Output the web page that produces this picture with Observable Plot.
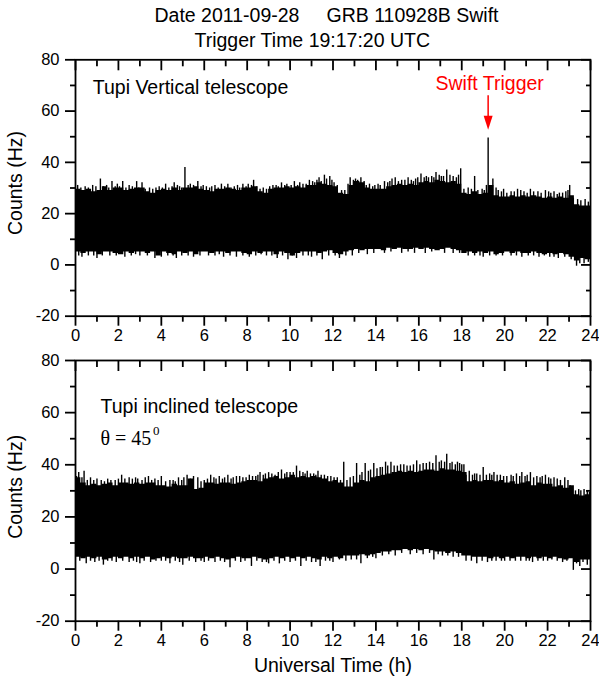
<!DOCTYPE html>
<html><head><meta charset="utf-8">
<script src="https://cdn.jsdelivr.net/npm/d3@7"></script>
<script src="https://cdn.jsdelivr.net/npm/@observablehq/plot@0.6"></script>
<style>
html,body{margin:0;padding:0;background:#fff;}
#chart{width:599px;height:688px;position:relative;overflow:hidden;}
#chart svg{display:block;}
</style></head><body><div id="chart"></div>
<script>
// ---- data ----
const titleLine1 = "Date 2011-09-28     GRB 110928B Swift";
const titleLine2 = "Trigger Time 19:17:20 UTC";
const xTickLabels = [0,2,4,6,8,10,12,14,16,18,20,22,24];
const xMinorTicks = [1,3,5,7,9,11,13,15,17,19,21,23];
const yTickLabels = [-20,0,20,40,60,80];
const yMinorTicks = [-10,10,30,50,70];
const binWidth = 0.25; // hours per envelope value

// Tupi Vertical telescope: upper / lower envelope of counts per 0.25 h bin
const vertHi = [
 29.5,29,29.5,28.5, 29,30.5,29,30, 30,29,29.5,30, 30,28.5,28,29,
 29.5,29,30,29, 30,30,30.5,29.5, 29,28.5,29.5,29.5, 30,29.5,29,30,
 30,30.5,28.5,28, 29.5,30,30,30.5, 30,30.5,30,31, 31,32,31.5,31,
 30.5,28,27.5,31, 32.5,32,30,29.5, 29.5,29.5,30.5,31, 31.5,31,31.5,31,
 32,32.5,32,33, 32.5,32,32.5,31.5, 28,27.5,28.5,27.5, 28,31,27,26.5,
 26.5,27,26.5,27, 26.5,27,26.5,26, 26.5,26,26.5,26, 27,23.5,23,23];
const vertLo = [
 5,4.5,5,5, 4,5,5,4.5, 4,5,4.5,5, 5,4.5,5,3.5,
 5,4.5,4,5, 4.5,5,4,5, 5,4.5,5,5, 4.5,5,5,4.5,
 4,5,4.5,5, 5,4,5,4.5, 3.5,4.5,5,5, 5,4.5,5,5.5,
 4.5,4,5,5.5, 6,5.5,6,6, 6,5.5,6.5,6, 6.5,6,6,6.5,
 6,6.5,6,5.5, 6,6.5,6,5.5, 4.5,5,4.5,5, 4.5,5,4,4.5,
 5,4.5,5,4.5, 4.5,5,4.5,4, 4.5,4,4.5,4, 3,1.5,2.5,2];
// individual spikes above / below the envelope: [hour, counts]
const vertSpikesUp = [[0.1,31],[0.25,30],[0.45,30.5],[0.6,30],[0.8,31],[0.95,30.5],[1.16,33.5],[1.3,30.5],[1.45,31],[1.55,30],[1.7,32.5],[1.85,30.5],[1.95,31.5],[2.05,30.5],[2.2,32.5],[2.35,30],[2.5,31],[2.65,30.5],[2.85,32.5],[2.95,30],[3.1,32],[3.25,29.5],[3.45,30],[3.6,29.5],[3.75,30],[3.9,30.5],[4.05,30],[4.2,31.5],[4.35,30],[4.5,30.5],[4.6,32],[4.75,31],[4.85,30.5],[4.95,30],[5.1,38],[5.25,31],[5.35,31.5],[5.5,31],[5.7,32.5],[5.85,30.5],[5.95,31],[6.1,30.5],[6.25,30],[6.35,30.5],[6.5,31],[6.65,30],[6.8,31.5],[6.95,30.5],[7.1,31.5],[7.25,30],[7.4,30.5],[7.55,31],[7.65,30],[7.8,31.5],[7.95,30.5],[8.05,31.5],[8.2,31],[8.3,33],[8.45,30.5],[8.6,29.5],[8.75,30],[8.9,29.5],[9.05,30.5],[9.2,31],[9.35,31],[9.45,30.5],[9.6,32],[9.75,31],[9.85,31.5],[10.05,31],[10.2,32.5],[10.35,31],[10.45,32],[10.6,31.5],[10.75,31.5],[10.9,33],[11.05,32.5],[11.15,32],[11.25,33],[11.35,34],[11.45,32.5],[11.6,35],[11.7,33.5],[11.85,34.5],[11.95,33],[12.05,32],[12.2,31],[12.4,29],[12.55,29],[12.7,31.5],[12.8,34],[12.95,33],[13.05,33.5],[13.15,33],[13.3,34],[13.45,32.5],[13.55,31],[13.7,31.5],[13.85,30.5],[13.95,31],[14.1,31.5],[14.2,31],[14.4,32.5],[14.55,32],[14.65,32.5],[14.75,33.5],[14.9,34],[15.05,32.5],[15.2,33],[15.35,33],[15.5,34],[15.65,33],[15.75,32.5],[15.85,33.5],[15.95,34],[16.1,35.5],[16.25,34],[16.35,34.5],[16.45,34],[16.6,34.5],[16.7,34],[16.8,36],[16.95,35],[17.05,34.5],[17.15,34.5],[17.3,37],[17.45,35],[17.6,34.5],[17.75,34],[17.85,35],[17.95,37.5],[18.1,29.5],[18.3,30],[18.45,29.5],[18.6,34.5],[18.75,29],[18.95,29.5],[19.05,29],[19.15,31],[19.23,49.5],[19.35,30.5],[19.45,33.5],[19.6,30],[19.7,29],[19.85,28.5],[19.95,29.5],[20.1,28],[20.3,28.5],[20.45,28.5],[20.6,29.5],[20.75,29],[20.9,28.5],[21.05,28],[21.2,29.5],[21.35,28.5],[21.55,28.5],[21.7,28],[21.9,29],[22.05,28.5],[22.15,28],[22.3,28.5],[22.45,27.5],[22.55,28],[22.7,28],[22.85,28.5],[22.95,29],[23.03,31],[23.2,26],[23.4,25.5],[23.55,25],[23.75,25.5],[23.9,24.5]];
const vertSpikesDown = [[0.15,3.5],[0.3,3],[0.6,3.5],[0.85,3.5],[1.0,2.5],[1.25,3.5],[1.6,3.5],[1.9,3.5],[2.3,3],[2.6,3.5],[2.8,4],[3.0,3.5],[3.35,3.5],[3.7,2.5],[4.0,3],[4.3,3.5],[4.55,3.5],[4.7,2.5],[4.95,3.5],[5.25,3.5],[5.5,3],[5.8,3.5],[6.2,3.5],[6.5,3.5],[6.7,4],[6.9,3],[7.2,3.5],[7.5,3],[7.8,3.5],[8.1,3],[8.4,3.5],[8.65,4],[8.9,3.5],[9.15,3.5],[9.4,2.5],[9.65,3.5],[9.9,2],[10.1,3.5],[10.3,2.5],[10.6,3.5],[10.85,3.5],[11.0,3],[11.25,3.5],[11.5,2],[11.8,3.5],[12.1,3.5],[12.3,2.5],[12.6,3.5],[12.9,3.5],[13.2,4.5],[13.6,4],[13.9,4.5],[14.4,4.5],[14.7,5],[15.2,4.5],[15.5,5],[15.8,4.5],[16.3,4.5],[16.6,5],[17.2,4.5],[17.6,4.5],[17.9,4.5],[18.3,3.5],[18.6,3.5],[18.85,3.5],[19.0,3],[19.3,3.5],[19.6,3.5],[19.9,3.5],[20.3,3.5],[20.55,3.5],[20.8,3],[21.1,3.5],[21.35,3.5],[21.6,3],[21.85,3.5],[22.1,3],[22.3,3],[22.5,2.5],[22.8,3],[23.1,2],[23.35,-0.5],[23.5,0.5],[23.7,0.5],[23.9,1]];

// Tupi inclined telescope (theta = 45 deg)
const inclHi = [
 35,33,32,32.5, 32,32.5,33,32, 33,33,32.5,33, 32.5,33,33,32,
 32,31.5,32.5,32, 32,34.5,30.5,31, 33,33,32.5,33, 33,32.5,33,33.5,
 34,34,33.5,34.5, 35,35.5,34.5,35, 36,35,35.5,35, 35.5,35,34.5,33.5,
 34,33,31.5,31.5, 33,34,33.5,35, 35.5,36,36.5,37, 37.5,37,37.5,37,
 37.5,38,38,37.5, 38.5,38,38,37.5, 37,33.5,34,33.5, 34,34,33.5,34,
 33,33.5,32.5,33, 33.5,32,33,32.5, 32.5,31.5,32,31, 32,28.5,28,28.5];
const inclLo = [
 4.5,4,4.5,4, 4.5,3.5,4,4.5, 4,4.5,4,4.5, 4,4.5,3.5,4,
 4.5,4,4.5,4, 4,4.5,4,4, 4.5,4,4.5,4, 3.5,4,4.5,4,
 4,4.5,4,3.5, 4,4.5,4,4.5, 4,4.5,4,4.5, 4,3.5,4.5,4,
 4.5,4,5,5, 5,5.5,5,5.5, 6,6.5,6.5,7, 7,7.5,7,7.5,
 7,7.5,7,6.5, 6.5,6,6.5,6, 5,5,4.5,4.5, 4.5,4,4.5,4,
 4.5,4,4.5,4.5, 4,4.5,4,4.5, 4,4.5,4,3.5, 4,2.5,3.5,3.5];
const inclSpikesUp = [[0.05,35.5],[0.15,37],[0.3,35],[0.4,37.5],[0.55,34],[0.7,35],[0.85,34],[1.0,34.5],[1.2,34],[1.35,33.5],[1.5,34.5],[1.65,34],[1.85,34],[2.0,34.5],[2.15,36],[2.3,34.5],[2.5,35],[2.65,34.5],[2.8,35],[2.9,34.5],[3.1,34],[3.25,35],[3.4,35.5],[3.55,34],[3.7,34.5],[3.85,34],[4.0,35.5],[4.2,33.5],[4.4,34],[4.55,34],[4.65,33.5],[4.8,35],[4.95,34],[5.05,35],[5.2,36],[5.35,34.5],[5.5,35.5],[5.7,35],[5.85,33.5],[6.0,34],[6.15,34.5],[6.3,36],[6.45,35],[6.55,34.5],[6.7,35.5],[6.85,34.5],[6.95,35],[7.1,36],[7.25,34.5],[7.35,35],[7.5,35.5],[7.65,35.5],[7.8,35],[7.95,35],[8.1,36],[8.25,35.5],[8.4,35.5],[8.5,36],[8.6,37],[8.75,36],[8.85,36.5],[9.0,37],[9.15,36.5],[9.3,36],[9.45,37],[9.6,38],[9.75,36.5],[9.85,37],[10.0,37],[10.15,37],[10.3,39.5],[10.45,37.5],[10.6,37],[10.7,36.5],[10.8,37.5],[10.95,36.5],[11.1,36.5],[11.2,36],[11.3,37.5],[11.45,36],[11.6,36],[11.75,35.5],[11.9,35.5],[12.05,35],[12.2,35],[12.35,34],[12.5,41],[12.65,34],[12.8,35],[12.95,35.5],[13.1,40.5],[13.25,36],[13.35,37],[13.5,40.5],[13.65,37.5],[13.75,38],[13.9,40.5],[14.05,38.5],[14.2,39],[14.3,39],[14.45,41],[14.55,39.5],[14.7,41],[14.85,39.5],[15.0,39.5],[15.15,40],[15.3,40],[15.45,39.5],[15.6,39.5],[15.75,40],[15.9,41.5],[16.05,40],[16.2,40.5],[16.35,40.5],[16.5,41],[16.65,40.5],[16.8,43.5],[16.95,41],[17.05,41.5],[17.2,41],[17.3,44],[17.45,40.5],[17.55,41],[17.7,40],[17.8,41],[17.9,40.5],[18.0,40],[18.1,40],[18.2,36],[18.35,37.5],[18.5,36],[18.6,36.5],[18.7,36.5],[18.85,36],[19.0,39],[19.15,36],[19.3,36.5],[19.4,36],[19.5,37],[19.65,36],[19.8,36],[19.95,35.5],[20.1,35.5],[20.3,36],[20.4,35.5],[20.55,36.5],[20.7,35.5],[20.8,37],[20.95,35.5],[21.05,36],[21.2,37],[21.35,35],[21.5,35.5],[21.65,35],[21.75,35.5],[21.9,36],[22.05,35],[22.15,34.5],[22.3,35],[22.45,34.5],[22.6,34],[22.8,35],[22.95,34],[23.05,32],[23.15,30],[23.3,30],[23.45,30.5],[23.55,30],[23.7,30.5],[23.85,30],[23.95,29.5]];
const inclSpikesDown = [[0.2,3],[0.5,2],[0.7,3],[0.9,2.5],[1.1,3],[1.3,1.5],[1.5,3],[1.7,3],[1.9,2.5],[2.2,3],[2.5,2.5],[2.7,3],[2.85,2.5],[3.0,2],[3.2,3],[3.5,2.5],[3.75,3],[4.0,3],[4.2,3],[4.4,2],[4.65,3],[4.85,2.5],[5.0,1.5],[5.3,3],[5.6,2.5],[5.85,3],[6.0,2.5],[6.2,3],[6.5,2.5],[6.75,3],[6.95,2.5],[7.2,0.5],[7.45,3],[7.7,2.5],[7.9,3],[8.2,1],[8.45,3],[8.7,2.5],[8.9,2.5],[9.0,2],[9.25,3],[9.5,2],[9.75,3],[10.0,2.5],[10.25,3],[10.5,1],[10.75,3],[11.0,2.5],[11.2,2.5],[11.4,1],[11.65,3],[11.85,3],[12.0,2.5],[12.3,3.5],[12.6,3],[12.85,3.5],[13.1,3.5],[13.3,2],[13.6,4],[13.85,4.5],[14.0,4],[14.3,5],[14.6,5.5],[14.9,5],[15.2,6],[15.6,5.5],[15.9,6],[16.2,5.5],[16.5,6],[16.7,3.5],[16.9,5.5],[17.1,5],[17.35,5],[17.6,4.5],[17.85,4.5],[18.2,3],[18.45,3],[18.7,2],[18.95,3],[19.2,2.5],[19.4,3],[19.6,3],[19.85,3],[20.0,3],[20.25,3],[20.5,3],[20.75,3],[21.0,3],[21.15,3],[21.3,2.5],[21.55,3],[21.8,3],[22.0,3],[22.2,3.5],[22.45,3],[22.7,2.5],[22.9,3],[23.2,-0.5],[23.35,2],[23.5,1],[23.65,2.5],[23.85,1.5]];

// Swift trigger annotation
const triggerTime = 19.23;
const arrowTop = 66;
const arrowHeadTop = 57.5;
const arrowTip = 52.7;
const bandMid = 16;

// ---- drawing ----
const FONT = "'Liberation Sans', Arial, Helvetica, sans-serif";
const SERIF = "'Liberation Serif', 'Times New Roman', serif";
const RED = "#ff0000";
const SW = 1.8;
const plain = d => String(d);

function bandTable(hi, lo) {
  const rows = hi.map((h, i) => ({t: i * binWidth, hi: h, lo: lo[i]}));
  rows.push({t: 24, hi: hi[hi.length - 1], lo: lo[lo.length - 1]});
  return rows;
}

function axes() {
  return [
    Plot.axisY(yTickLabels, {anchor: "left", tickSize: 10, tickPadding: 6, tickFormat: plain, strokeWidth: SW, label: null, fontSize: 16.5}),
    Plot.axisY(yMinorTicks, {anchor: "left", tickSize: 5, tickFormat: () => "", strokeWidth: SW, label: null}),
    Plot.axisY(yTickLabels, {anchor: "right", tickSize: 10, dx: -10, tickFormat: () => "", strokeWidth: SW, label: null}),
    Plot.axisY(yMinorTicks, {anchor: "right", tickSize: 5, dx: -5, tickFormat: () => "", strokeWidth: SW, label: null}),
    Plot.axisX(xTickLabels, {anchor: "bottom", tickSize: 10, tickPadding: 3, tickFormat: plain, strokeWidth: SW, label: null, fontSize: 16.5}),
    Plot.axisX(xMinorTicks, {anchor: "bottom", tickSize: 6, tickFormat: () => "", strokeWidth: SW, label: null}),
    Plot.axisX(xTickLabels, {anchor: "top", tickSize: 10, dy: 10, tickFormat: () => "", strokeWidth: SW, label: null}),
    Plot.axisX(xMinorTicks, {anchor: "top", tickSize: 6, dy: 6, tickFormat: () => "", strokeWidth: SW, label: null}),
    Plot.frame({strokeWidth: SW})
  ];
}

function signal(hi, lo, up, down) {
  return [
    Plot.areaY(bandTable(hi, lo), {x: "t", y1: "lo", y2: "hi", curve: "step-after", fill: "black"}),
    Plot.ruleX(up, {x: d => d[0], y1: bandMid, y2: d => d[1], stroke: "black", strokeWidth: 1.4}),
    Plot.ruleX(down, {x: d => d[0], y1: bandMid, y2: d => d[1], stroke: "black", strokeWidth: 1.4})
  ];
}

const arrowHead = {
  draw(context) {
    context.moveTo(0, 0);
    context.lineTo(-4.5, -14);
    context.lineTo(4.5, -14);
    context.closePath();
  }
};

const common = {
  width: 599,
  marginLeft: 75,
  marginRight: 9,
  x: {domain: [0, 24]},
  y: {domain: [-20, 80]},
  style: {fontFamily: FONT, fontSize: "16.5px", color: "black", background: "white", overflow: "visible"}
};

const topPanel = Plot.plot({
  ...common,
  height: 345,
  marginTop: 59.3,
  marginBottom: 29.3,
  marks: [
    ...signal(vertHi, vertLo, vertSpikesUp, vertSpikesDown),
    ...axes(),
    Plot.text([titleLine1], {frameAnchor: "top-left", textAnchor: "start", lineAnchor: "bottom", dx: 79, dy: -38.3, fontSize: 19.5, fontFamily: FONT}),
    Plot.text([titleLine2], {frameAnchor: "top-left", textAnchor: "start", lineAnchor: "bottom", dx: 119, dy: -13.3, fontSize: 19.5, fontFamily: FONT}),
    Plot.text(["Counts (Hz)"], {frameAnchor: "left", rotate: -90, lineAnchor: "middle", textAnchor: "middle", dx: -59.5, dy: -5, fontSize: 19.5, fontFamily: FONT}),
    Plot.text(["Tupi Vertical telescope"], {frameAnchor: "top-left", textAnchor: "start", lineAnchor: "bottom", dx: 17.3, dy: 34, fontSize: 19.5, fontFamily: FONT}),
    Plot.text(["Swift Trigger"], {frameAnchor: "top-left", textAnchor: "start", lineAnchor: "bottom", dx: 360, dy: 30, fontSize: 19.5, fontFamily: FONT, fill: RED}),
    Plot.ruleX([triggerTime], {x: d => d, y1: arrowTop, y2: arrowHeadTop, stroke: RED, strokeWidth: 1.5}),
    Plot.dot([triggerTime], {x: d => d, y: arrowTip, symbol: arrowHead, fill: RED, stroke: "none", r: 7})
  ]
});

const bottomPanel = Plot.plot({
  ...common,
  height: 343,
  marginTop: 15,
  marginBottom: 67.3,
  marks: [
    ...signal(inclHi, inclLo, inclSpikesUp, inclSpikesDown),
    ...axes(),
    Plot.text(["Counts (Hz)"], {frameAnchor: "left", rotate: -90, lineAnchor: "middle", textAnchor: "middle", dx: -59.5, dy: -4, fontSize: 19.5, fontFamily: FONT}),
    Plot.text(["Universal Time (h)"], {frameAnchor: "bottom", textAnchor: "middle", lineAnchor: "bottom", dy: 51, fontSize: 19.5, fontFamily: FONT}),
    Plot.text(["Tupi inclined telescope"], {frameAnchor: "top-left", textAnchor: "start", lineAnchor: "bottom", dx: 25, dy: 52.3, fontSize: 19.5, fontFamily: FONT}),
    Plot.text(["\u03b8 = 45"], {frameAnchor: "top-left", textAnchor: "start", lineAnchor: "bottom", dx: 25, dy: 84, fontSize: 20, fontFamily: SERIF}),
    Plot.text(["0"], {frameAnchor: "top-left", textAnchor: "start", lineAnchor: "bottom", dx: 77.5, dy: 74, fontSize: 13, fontFamily: SERIF})
  ]
});

document.getElementById("chart").append(topPanel, bottomPanel);
</script></body></html>
